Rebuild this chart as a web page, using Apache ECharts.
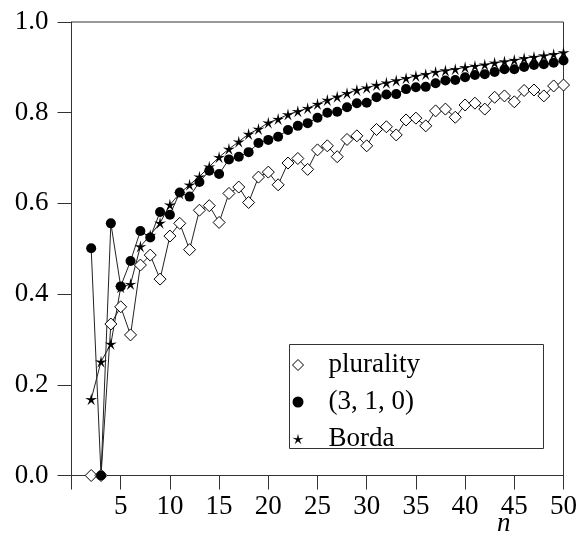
<!DOCTYPE html>
<html>
<head>
<meta charset="utf-8">
<script src="https://cdn.jsdelivr.net/npm/echarts@6/dist/echarts.min.js"></script>
<style>
html,body{margin:0;padding:0;background:#fff;}
#chart{width:582px;height:538px;}
</style>
</head>
<body>
<div id="chart"></div>
<script>
const nValues = [2,3,4,5,6,7,8,9,10,11,12,13,14,15,16,17,18,19,20,21,22,23,24,25,26,27,28,29,30,31,32,33,34,35,36,37,38,39,40,41,42,43,44,45,46,47,48,49,50];
const plurality = [0,0,0.334,0.372,0.310,0.464,0.486,0.433,0.528,0.556,0.498,0.585,0.595,0.558,0.622,0.636,0.602,0.658,0.669,0.641,0.689,0.699,0.675,0.718,0.727,0.703,0.741,0.749,0.727,0.763,0.769,0.751,0.784,0.788,0.771,0.804,0.808,0.790,0.817,0.821,0.808,0.834,0.837,0.824,0.849,0.850,0.837,0.859,0.861];
const rule310 = [0.501,0,0.556,0.417,0.473,0.539,0.525,0.581,0.575,0.624,0.615,0.647,0.672,0.665,0.697,0.703,0.713,0.733,0.740,0.747,0.762,0.771,0.777,0.789,0.800,0.802,0.812,0.821,0.822,0.834,0.840,0.841,0.852,0.856,0.857,0.865,0.871,0.872,0.878,0.883,0.885,0.890,0.896,0.896,0.901,0.905,0.907,0.910,0.915];
const borda = [0.168,0.251,0.290,0.415,0.422,0.505,0.530,0.557,0.597,0.622,0.641,0.659,0.681,0.702,0.720,0.736,0.753,0.764,0.778,0.786,0.796,0.803,0.810,0.819,0.828,0.835,0.843,0.850,0.855,0.861,0.866,0.871,0.876,0.881,0.885,0.890,0.893,0.896,0.900,0.903,0.906,0.910,0.913,0.916,0.920,0.923,0.926,0.929,0.933];
const seriesNames = ['plurality', '(3, 1, 0)', 'Borda'];
const xTicks = [5,10,15,20,25,30,35,40,45,50];
const yTicks = [0.0,0.2,0.4,0.6,0.8,1.0];

function starPath(){
  const pts = [];
  const R = 10, r = 3.0;
  for (let i = 0; i < 10; i++) {
    const a = -Math.PI/2 + i*Math.PI/5;
    const rad = i % 2 === 0 ? R : r;
    pts.push((R + rad*Math.cos(a)).toFixed(2) + ',' + (R + rad*Math.sin(a)).toFixed(2));
  }
  return 'path://M' + pts.join('L') + 'Z';
}
const STAR = starPath();

const pairs = arr => nValues.map((n, i) => [n, arr[i]]);
const FONT = '"Liberation Serif", "DejaVu Serif", serif';
const AX = '#333';

const chart = echarts.init(document.getElementById('chart'), null, {renderer:'canvas'});
chart.setOption({
  animation: false,
  backgroundColor: '#fff',
  grid: {left: 71.5, right: 18.5, top: 22, bottom: 62.5, show: true, borderColor: AX, borderWidth: 1, backgroundColor: 'transparent'},
  xAxis: {
    type: 'value', min: 0, max: 50, interval: 5,
    axisLine: {show: true, lineStyle: {color: AX, width: 1}},
    axisTick: {show: true, inside: false, length: 14, lineStyle: {color: AX}},
    splitLine: {show: false},
    axisLabel: {
      color: '#000', fontFamily: FONT, fontSize: 27, margin: 18,
      formatter: v => xTicks.indexOf(v) >= 0 ? String(v) : ''
    }
  },
  yAxis: {
    type: 'value', min: 0, max: 1, interval: 0.2,
    axisLine: {show: true, lineStyle: {color: AX, width: 1}},
    axisTick: {show: true, inside: false, length: 14, lineStyle: {color: AX}},
    splitLine: {show: false},
    axisLabel: {
      color: '#000', fontFamily: FONT, fontSize: 27, margin: 23,
      formatter: v => yTicks.some(t => Math.abs(t - v) < 1e-9) ? v.toFixed(1) : ''
    }
  },
  legend: {
    orient: 'vertical', left: 292, top: 351, itemGap: 9, itemWidth: 11, itemHeight: 11,
    padding: 0,
    textStyle: {fontFamily: FONT, fontSize: 27, color: '#000', padding: [0,0,0,20], lineHeight: 28},
    data: [
      {name: seriesNames[0], icon: 'diamond', itemStyle: {color: '#fff', borderColor: '#000', borderWidth: 1}},
      {name: seriesNames[1], icon: 'circle', itemStyle: {color: '#000', borderWidth: 0}},
      {name: seriesNames[2], icon: STAR, itemStyle: {color: '#000', borderWidth: 0}}
    ]
  },
  graphic: [
    {type: 'rect', shape: {x: 289.5, y: 344.5, width: 254, height: 104}, style: {fill: 'none', stroke: AX, lineWidth: 1}, z: 10, silent: true},
    {type: 'text', left: 497, top: 510, style: {text: 'n', font: 'italic 27px ' + FONT, fill: '#000'}}
  ],
  series: [
    {
      name: seriesNames[0], type: 'line', data: pairs(plurality),
      symbol: 'diamond', symbolSize: 12, showAllSymbol: true,
      lineStyle: {color: '#222', width: 1},
      itemStyle: {color: '#fff', borderColor: '#000', borderWidth: 1}
    },
    {
      name: seriesNames[1], type: 'line', data: pairs(rule310),
      symbol: 'circle', symbolSize: 10, showAllSymbol: true,
      lineStyle: {color: '#222', width: 1},
      itemStyle: {color: '#000', borderWidth: 0}
    },
    {
      name: seriesNames[2], type: 'line', data: pairs(borda),
      symbol: STAR, symbolSize: 12, showAllSymbol: true,
      lineStyle: {color: '#222', width: 1},
      itemStyle: {color: '#000', borderWidth: 0}
    }
  ]
});
</script>
</body>
</html>
